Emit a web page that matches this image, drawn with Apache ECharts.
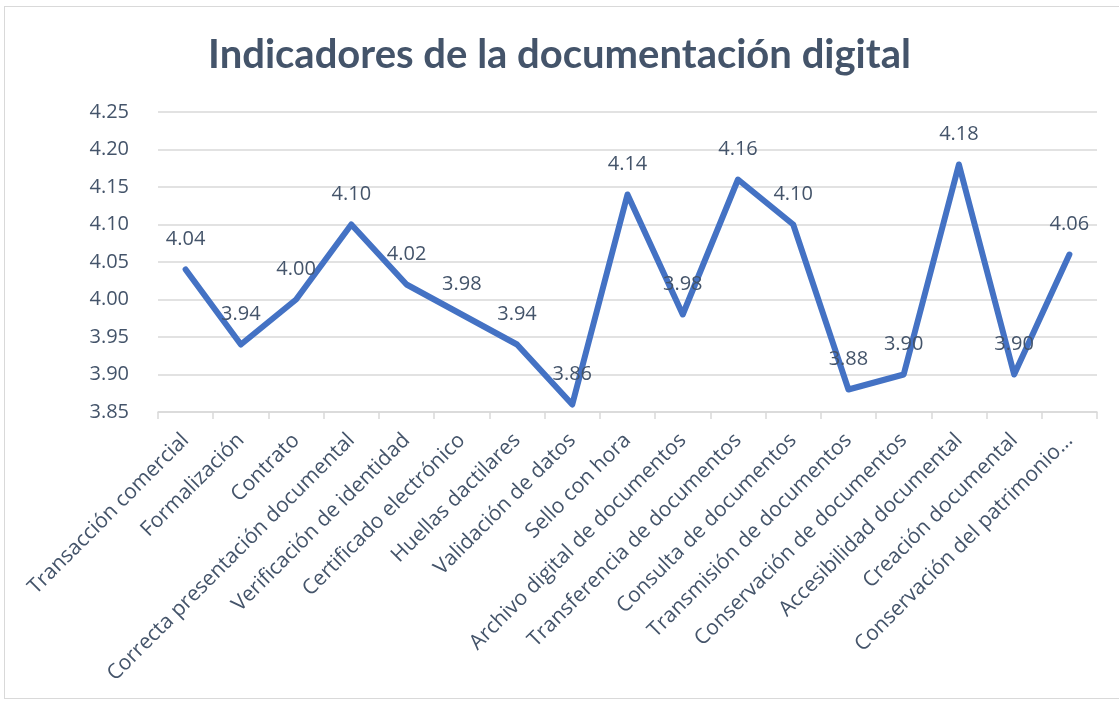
<!DOCTYPE html>
<html>
<head>
<meta charset="utf-8">
<script src="https://cdn.jsdelivr.net/npm/echarts@6/dist/echarts.min.js"></script>
<style>
html,body{margin:0;padding:0;background:#fff;}
#frame{position:absolute;left:4px;top:6px;width:1120px;height:693px;border:1px solid #d9d9d9;box-sizing:border-box;}
#chart{position:absolute;left:0;top:0;width:1119px;height:703px;}
</style>
</head>
<body>
<div id="frame"></div>
<div id="chart"></div>
<script>
const categories = [
  "Transacción comercial",
  "Formalización",
  "Contrato",
  "Correcta presentación documental",
  "Verificación de identidad",
  "Certificado electrónico",
  "Huellas dactilares",
  "Validación de datos",
  "Sello con hora",
  "Archivo digital de documentos",
  "Transferencia de documentos",
  "Consulta de documentos",
  "Transmisión de documentos",
  "Conservación de documentos",
  "Accesibilidad documental",
  "Creación documental",
  "Conservación del patrimonio..."
];
const values = [4.04, 3.94, 4.00, 4.10, 4.02, 3.98, 3.94, 3.86, 4.14, 3.98, 4.16, 4.10, 3.88, 3.90, 4.18, 3.90, 4.06];
const yTicks = [3.85, 3.90, 3.95, 4.00, 4.05, 4.10, 4.15, 4.20, 4.25];

const textColor = '#44546a';
const font = '"Open Sans", "Noto Sans", sans-serif';
const chart = echarts.init(document.getElementById('chart'));
chart.setOption({
  animation: false,
  title: {
    text: 'Indicadores de la documentación digital',
    left: 'center',
    top: 30,
    textStyle: {fontFamily: 'Lato', fontWeight: 'bold', fontSize: 40, color: '#44546a'}
  },
  grid: {left: 158, right: 22, top: 112, bottom: 291},
  xAxis: {
    type: 'category',
    data: categories,
    boundaryGap: true,
    axisLine: {lineStyle: {color: '#d9d9d9', width: 1.5}},
    axisTick: {show: true, length: 7, lineStyle: {color: '#d9d9d9', width: 1.5}},
    axisLabel: {
      interval: 0, rotate: 45, margin: 25,
      fontFamily: font, fontSize: 21, color: textColor
    }
  },
  yAxis: {
    type: 'value',
    min: yTicks[0], max: yTicks[yTicks.length - 1], interval: 0.05,
    axisLine: {show: false},
    axisTick: {show: false},
    splitLine: {lineStyle: {color: '#d9d9d9', width: 1.5}},
    axisLabel: {
      margin: 29,
      fontFamily: font, fontSize: 20, color: textColor,
      formatter: v => v.toFixed(2)
    }
  },
  series: [{
    type: 'line',
    data: values,
    symbol: 'circle',
    symbolSize: 1,
    showSymbol: true,
    itemStyle: {color: '#4472c4'},
    lineStyle: {color: '#4472c4', width: 6, cap: 'round', join: 'round'},
    label: {
      show: true, position: 'top', distance: 20,
      fontFamily: font, fontSize: 20, color: textColor,
      formatter: p => p.value.toFixed(2)
    },
    labelLayout: {hideOverlap: false}
  }]
});
</script>
</body>
</html>
